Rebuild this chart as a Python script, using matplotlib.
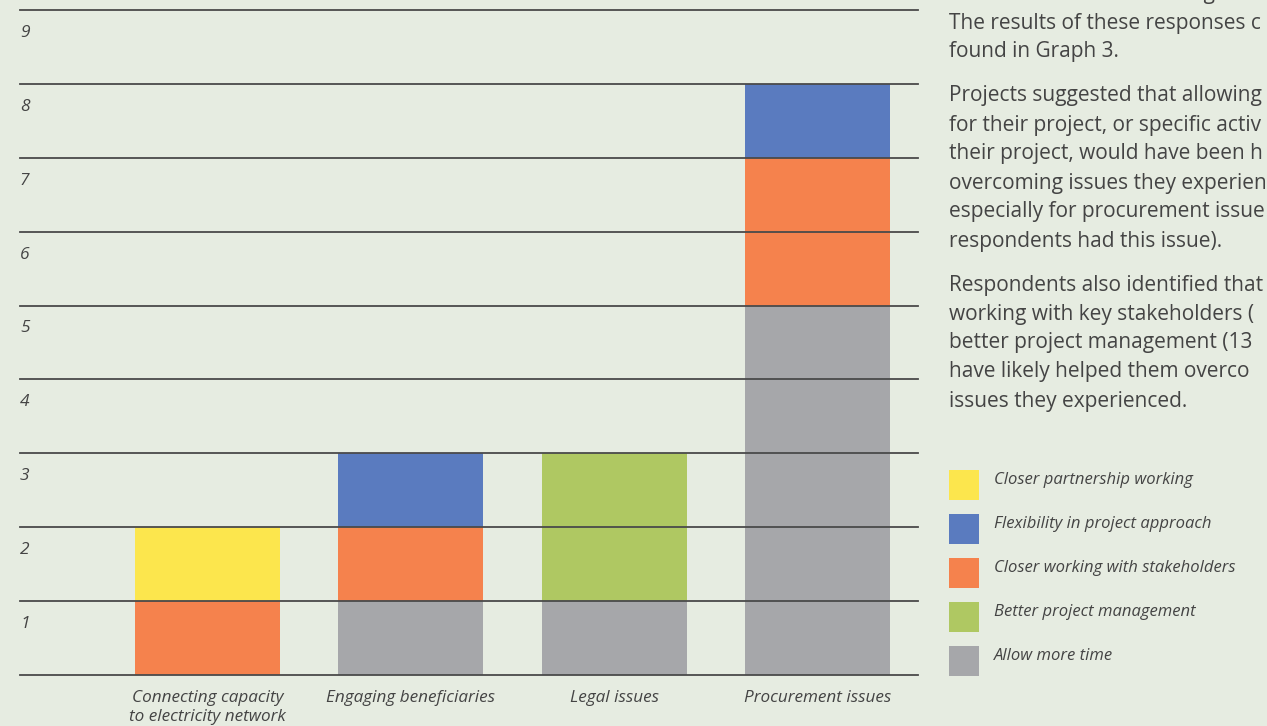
import matplotlib
matplotlib.use("Agg")
import matplotlib.pyplot as plt
import numpy as np

categories = ["Connecting capacity\nto electricity network", "Engaging beneficiaries",
              "Legal issues", "Procurement issues"]
allow_more_time = [0, 1, 1, 5]
better_project_mgmt = [0, 0, 2, 0]
closer_stakeholders = [1, 1, 0, 2]
flexibility = [0, 1, 0, 1]
closer_partnership = [1, 0, 0, 0]
y_ticks = [1, 2, 3, 4, 5, 6, 7, 8, 9]

colors = {
    "Allow more time": "#a6a7aa",
    "Better project management": "#afc862",
    "Closer working with stakeholders": "#f5824d",
    "Flexibility in project approach": "#5a7bbf",
    "Closer partnership working": "#fce64d",
}
legend_order = ["Closer partnership working", "Flexibility in project approach",
                "Closer working with stakeholders", "Better project management",
                "Allow more time"]

# Body text beside the chart (cut off at the page edge in the source)
paragraphs = [
    ["learned due to the challenges t",
     "The results of these responses c",
     "found in Graph 3."],
    ["Projects suggested that allowing",
     "for their project, or specific activ",
     "their project, would have been h",
     "overcoming issues they experien",
     "especially for procurement issue",
     "respondents had this issue)."],
    ["Respondents also identified that",
     "working with key stakeholders (",
     "better project management (13",
     "have likely helped them overco",
     "issues they experienced."],
]

BG = "#e6ece1"
TXT = "#444444"
FONT = ["Open Sans", "DejaVu Sans"]

W, H = 1267, 726
fig = plt.figure(figsize=(W / 100, H / 100), dpi=100)
fig.patch.set_facecolor(BG)

ax_l, ax_r, ax_t, ax_b = 20, 918, 10, 675
ax = fig.add_axes([ax_l / W, 1 - ax_b / H, (ax_r - ax_l) / W, (ax_b - ax_t) / H])
ax.set_facecolor(BG)

x = np.arange(len(categories))
bar_w = 0.713
stack = [("Allow more time", allow_more_time),
         ("Better project management", better_project_mgmt),
         ("Closer working with stakeholders", closer_stakeholders),
         ("Flexibility in project approach", flexibility),
         ("Closer partnership working", closer_partnership)]
bottom = np.zeros(len(categories))
for name, vals in stack:
    v = np.array(vals, dtype=float)
    ax.bar(x, v, bar_w, bottom=bottom, color=colors[name], linewidth=0, zorder=1)
    bottom += v

ax.set_xlim(-0.922, 3.495)
ax.set_ylim(0, 9)
for yv in [0] + y_ticks:
    ax.axhline(yv, color="#4a4a4a", linewidth=1.3, zorder=3, clip_on=False)
for s in ax.spines.values():
    s.set_visible(False)
ax.set_xticks([])
ax.set_yticks([])

for yv in y_ticks:
    ax.text(-0.922, yv - 0.31, str(yv), ha="left", va="center", fontsize=12.5,
            style="italic", color=TXT, family=FONT)
for xi, c in zip(x, categories):
    ax.text(xi, -0.2, c, ha="center", va="top", fontsize=12.3, style="italic",
            color=TXT, family=FONT, linespacing=1.3)

# Right-hand paragraph text
y = -7
for para in paragraphs:
    for line in para:
        fig.text(949 / W, 1 - (y + 1) / H, line, ha="left", va="center", fontsize=15,
                 color=TXT, family=FONT)
        y += 29
    y += 15

# Legend
for i, name in enumerate(legend_order):
    yc = 485 + i * 44
    fig.patches.append(plt.Rectangle((949 / W, 1 - (yc + 15) / H), 30 / W, 30 / H,
                                     transform=fig.transFigure, color=colors[name],
                                     linewidth=0))
    fig.text(994 / W, 1 - (yc - 5) / H, name, ha="left", va="center", fontsize=12,
             style="italic", color=TXT, family=FONT)

fig.savefig("out.png", dpi=100, facecolor=BG)
